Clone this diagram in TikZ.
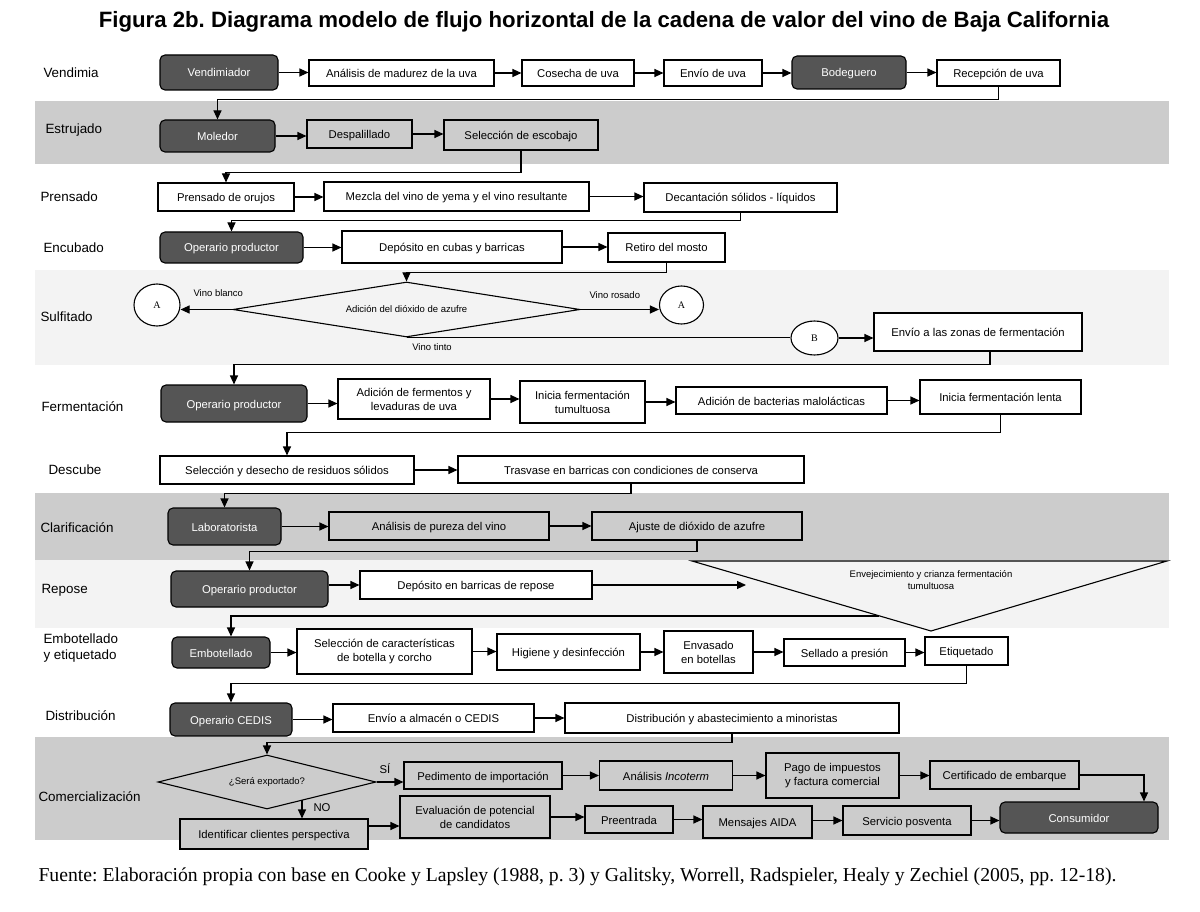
\documentclass[tikz,border=0pt]{standalone}
\usepackage{fontspec}
\setmainfont{Liberation Sans}
\newfontfamily\capfont{Liberation Serif}
\usetikzlibrary{arrows.meta, shapes.geometric}
\definecolor{bandgray}{HTML}{CCCCCC}
\definecolor{bandlight}{HTML}{F3F3F3}
\definecolor{darkbox}{HTML}{555555}
\newcommand{\bxf}{\fontsize{11.3}{14}\selectfont}
\newcommand{\rwf}{\fontsize{13.4}{16}\selectfont}
\newcommand{\smf}{\fontsize{9.5}{11.5}\selectfont}
\frenchspacing

\begin{document}
\begin{tikzpicture}[x=1pt, y=-1pt,
  box/.style={draw, line width=1.1pt, fill=white, inner sep=0pt, font=\bxf, align=center, text height=10.5pt, text depth=1.5pt},
  two/.style={text height={}, text depth={}},
  gbox/.style={box, fill=bandgray},
  dbox/.style={box, fill=darkbox, text=white, rounded corners=5pt},
  circ/.style={draw, ellipse, line width=1.1pt, fill=white, inner sep=0pt, font=\capfont\fontsize{10}{12}\selectfont},
  decis/.style={draw, diamond, line width=1.1pt, inner sep=0pt, font=\smf},
  lbl/.style={anchor=west, font=\rwf, align=left},
  sm/.style={font=\smf},
  arr/.style={-{Triangle[length=9pt,width=8pt]}, line width=1.1pt}]
\useasboundingbox (0,0) rectangle (1200,912);

% bandas
\fill[bandgray] (35,101) rectangle (1169,164);
\fill[bandlight] (35,270) rectangle (1169,365);
\fill[bandgray] (35,493) rectangle (1169,560);
\fill[bandlight] (35,560) rectangle (1169,628);
\fill[bandgray] (35,737) rectangle (1169,840);

\node (title) at (604,22) {\bfseries\fontsize{22.2}{26}\selectfont Figura 2b. Diagrama modelo de flujo horizontal de la cadena de valor del vino de Baja California};

% etapas
\node[lbl] (lvend) at (40,73) {Vendimia};
\node[lbl] (lestr) at (42,130) {Estrujado};
\node[lbl] (lpren) at (37,197) {Prensado};
\node[lbl] (lencu) at (40,248) {Encubado};
\node[lbl] (lsulf) at (37,317) {Sulfitado};
\node[lbl] (lferm) at (38,407) {Fermentación};
\node[lbl] (ldesc) at (45,470) {Descube};
\node[lbl] (lclar) at (37,528) {Clarificación};
\node[lbl] (lrepo) at (38,590) {Repose};
\node[lbl] (lembo) at (40,648) {Embotellado\\y etiquetado};
\node[lbl] (ldist) at (42,716) {Distribución};
\node[lbl] (lcome) at (35,797) {Comercialización};

% vendimia
\node[dbox, minimum width=118, minimum height=35] (vend) at (219,72.5) {Vendimiador};
\node[box, minimum width=185, minimum height=26] (anal) at (401.5,73) {Análisis de madurez de la uva};
\node[box, minimum width=112, minimum height=26] (cosecha) at (578,73) {Cosecha de uva};
\node[box, minimum width=98, minimum height=26] (envio) at (713,73) {Envío de uva};
\node[dbox, minimum width=114, minimum height=33] (bodeg) at (849,72.5) {Bodeguero};
\node[box, minimum width=123, minimum height=26] (recep) at (998.5,73) {Recepción de uva};

\draw[arr] (vend.east) -- (vend.east -| anal.west);
\draw[arr] (anal.east) -- (anal.east -| cosecha.west);
\draw[arr] (cosecha.east) -- (cosecha.east -| envio.west);
\draw[arr] (envio.east) -- (envio.east -| bodeg.west);
\draw[arr] (bodeg.east) -- (bodeg.east -| recep.west);

% estrujado
\node[dbox, minimum width=115, minimum height=32] (moled) at (217.5,136) {Moledor};
\node[gbox, minimum width=105, minimum height=28] (despal) at (359.5,134) {Despalillado};
\node[gbox, minimum width=154, minimum height=30] (selesc) at (521,135) {Selección de escobajo};

\draw[arr] (recep.south) -- ++(0,13) -| (moled.north);
\draw[arr] (moled.east) -- (moled.east -| despal.west);
\draw[arr] (despal.east) -- (despal.east -| selesc.west);

% prensado
\node[box, minimum width=136, minimum height=28] (prens) at (226,197) {Prensado de orujos};
\node[box, minimum width=265, minimum height=29] (mezcla) at (456.5,196.5) {Mezcla del vino de yema y el vino resultante};
\node[box, minimum width=193, minimum height=29] (decant) at (740.5,197.5) {Decantación sólidos - líquidos};

\draw[arr] (selesc.south) -- ++(0,22) -| (prens.north);
\draw[arr] (prens.east) -- (prens.east -| mezcla.west);
\draw[arr] (mezcla.east) -- (mezcla.east -| decant.west);

% encubado
\node[dbox, minimum width=143, minimum height=31] (oper1) at (231.5,247.5) {Operario productor};
\node[box, minimum width=220, minimum height=32] (depcub) at (452,247) {Depósito en cubas y barricas};
\node[box, minimum width=117, minimum height=29] (retiro) at (666.5,247.5) {Retiro del mosto};

\draw[arr] (decant.south) -- ++(0,8) -| (oper1.north);
\draw[arr] (oper1.east) -- (oper1.east -| depcub.west);
\draw[arr] (depcub.east) -- (depcub.east -| retiro.west);

% sulfitado
\node[decis, aspect=6, minimum width=347, minimum height=55] (sulf) at (406.5,309.5) {Adición del dióxido de azufre};
\node[circ, minimum width=46, minimum height=42] (conA1) at (157,305) {A};
\node[circ, minimum width=44, minimum height=38] (conA2) at (681.5,305) {A};
\node[circ, minimum width=47, minimum height=34] (conB) at (814.5,338) {B};
\node[box, minimum width=208, minimum height=38] (envzona) at (978,332) {Envío a las zonas de fermentación};
\node[sm, anchor=west] (lblanco) at (190,293) {Vino blanco};
\node[sm, anchor=west] (lrosado) at (586,295) {Vino rosado};
\node[sm] (ltinto) at (432,347) {Vino tinto};

\draw[arr] (retiro.south) -- ++(0,10) -| (sulf.north);
\draw[arr] (sulf.west) -- (sulf.west -| conA1.east);
\draw[arr] (sulf.east) -- (sulf.east -| conA2.west);
\draw[line width=1.1pt] (sulf.south) -- (sulf.south -| conB.west);
\draw[arr] (conB.east) -- (conB.east -| envzona.west);

% fermentacion
\node[dbox, minimum width=146, minimum height=37] (oper2) at (234,403.5) {Operario productor};
\node[box, two, minimum width=152, minimum height=40] (adferm) at (414,399) {Adición de fermentos y\\levaduras de uva};
\node[box, two, minimum width=125, minimum height=42] (initum) at (582.5,402) {Inicia fermentación\\tumultuosa};
\node[box, minimum width=211, minimum height=27] (bacter) at (781.5,400.5) {Adición de bacterias malolácticas};
\node[box, minimum width=161, minimum height=34] (lenta) at (1000.5,397) {Inicia fermentación lenta};

\draw[arr] ([xshift=12pt]envzona.south) -- ++(0,13) -| (oper2.north);
\draw[arr] (oper2.east) -- (oper2.east -| adferm.west);
\draw[arr] (adferm.east) -- (adferm.east -| initum.west);
\draw[arr] (initum.east) -- (initum.east -| bacter.west);
\draw[arr] (bacter.east) -- (bacter.east -| lenta.west);

% descube
\node[box, minimum width=254, minimum height=28] (selres) at (287,470) {Selección y desecho de residuos sólidos};
\node[box, minimum width=346, minimum height=27] (trasv) at (631,469.5) {Trasvase en barricas con condiciones de conserva};

\draw[arr] (lenta.south) -- ++(0,18) -| (selres.north);
\draw[arr] (selres.east) -- (selres.east -| trasv.west);

% clarificacion
\node[dbox, minimum width=113, minimum height=37] (labor) at (224.5,526.5) {Laboratorista};
\node[gbox, minimum width=220, minimum height=28] (anpur) at (439,526) {Análisis de pureza del vino};
\node[gbox, minimum width=210, minimum height=28] (ajuste) at (697,526) {Ajuste de dióxido de azufre};

\draw[arr] (trasv.south) -- ++(0,10) -| (labor.north);
\draw[arr] (labor.east) -- (labor.east -| anpur.west);
\draw[arr] (anpur.east) -- (anpur.east -| ajuste.west);

% repose
\node[dbox, minimum width=157, minimum height=36] (oper3) at (249.5,589) {Operario productor};
\node[box, minimum width=232, minimum height=28] (depbar) at (476,585) {Depósito en barricas de repose};
\coordinate (tl) at (692,561);
\coordinate (tr) at (1167,561);
\coordinate (tb) at (931,631);
\draw[line width=1.1pt, fill=bandlight] (tl) -- (tr) -- (tb) -- cycle;
\node[sm, align=center] (crianza) at (931,580) {Envejecimiento y crianza fermentación\\tumultuosa};
\coordinate (trin) at (746,585);
\coordinate (trout) at (879,616);

\draw[arr] (ajuste.south) -- ++(0,11) -| (oper3.north);
\draw[arr] (depbar.west -| oper3.east) -- (depbar.west);
\draw[arr] (depbar.east) -- (trin);

% embotellado
\node[dbox, minimum width=98, minimum height=31] (embot) at (221,652.5) {Embotellado};
\node[box, two, minimum width=175, minimum height=45] (selcar) at (384.5,651.5) {Selección de características\\de botella y corcho};
\node[box, minimum width=143, minimum height=36] (higiene) at (568.5,652) {Higiene y desinfección};
\node[box, two, minimum width=89, minimum height=42] (envas) at (708.5,652) {Envasado\\en botellas};
\node[box, minimum width=121, minimum height=27] (sellado) at (844.5,652.5) {Sellado a presión};
\node[box, minimum width=83, minimum height=28] (etiq) at (966.5,651) {Etiquetado};

\draw[arr] (trout) -| ([xshift=10pt]embot.north);
\draw[arr] (embot.east) -- (embot.east -| selcar.west);
\draw[arr] (selcar.east) -- (selcar.east -| higiene.west);
\draw[arr] (higiene.east) -- (higiene.east -| envas.west);
\draw[arr] (envas.east) -- (envas.east -| sellado.west);
\draw[arr] (sellado.east) -- (sellado.east -| etiq.west);

% distribucion
\node[dbox, minimum width=122, minimum height=33] (opcedis) at (231,719.5) {Operario CEDIS};
\node[box, minimum width=201, minimum height=28] (envalm) at (433.5,718) {Envío a almacén o CEDIS};
\node[box, minimum width=334, minimum height=30] (distab) at (732,718) {Distribución y abastecimiento a minoristas};

\draw[arr] (etiq.south) -- ++(0,18) -| (opcedis.north);
\draw[arr] (opcedis.east) -- (opcedis.east -| envalm.west);
\draw[arr] (envalm.east) -- (envalm.east -| distab.west);

% comercializacion
\node[decis, aspect=4, minimum width=218, minimum height=54] (export) at (267,782) {¿Será exportado?};
\node[gbox, minimum width=158, minimum height=27] (pedim) at (483,775.5) {Pedimento de importación};
\node[gbox, minimum width=133, minimum height=29] (incot) at (666,775.5) {Análisis \textit{Incoterm}};
\node[gbox, two, minimum width=133, minimum height=45] (pago) at (832.5,775.5) {Pago de impuestos\\y factura comercial};
\node[gbox, minimum width=149, minimum height=28] (certif) at (1004.5,775) {Certificado de embarque};
\node[gbox, minimum width=188, minimum height=30] (identif) at (274,834) {Identificar clientes perspectiva};
\node[gbox, two, minimum width=150, minimum height=42] (evalu) at (475,817) {Evaluación de potencial\\de candidatos};
\node[gbox, minimum width=88, minimum height=27] (preen) at (629,819.5) {Preentrada};
\node[gbox, minimum width=109, minimum height=32] (mensa) at (757.5,822) {Mensajes AIDA};
\node[gbox, minimum width=128, minimum height=29] (servi) at (907,820.5) {Servicio posventa};
\node[dbox, minimum width=158, minimum height=31] (consum) at (1079,817.5) {Consumidor};
\node[anchor=west, font=\bxf] (lsi) at (376,769) {SÍ};
\node[anchor=west, font=\bxf] (lno) at (310,808) {NO};
\coordinate (nopt) at (302,800);

\draw[arr] (distab.south) -- ++(0,9) -| (export.north);
\draw[arr] (export.east) -- (export.east -| pedim.west);
\draw[arr] (pedim.east) -- (pedim.east -| incot.west);
\draw[arr] (incot.east) -- (incot.east -| pago.west);
\draw[arr] (pago.east) -- (pago.east -| certif.west);
\draw[arr] (certif.east) -| ([xshift=65pt]consum.north);
\draw[arr] (nopt) -- (nopt |- identif.north);
\draw[arr] ([yshift=8pt]identif.east) -- ([yshift=8pt]identif.east -| evalu.west);
\draw[arr] (evalu.east) -- (evalu.east -| preen.west);
\draw[arr] (preen.east) -- (preen.east -| mensa.west);
\draw[arr] (servi.west -| mensa.east) -- (servi.west);
\draw[arr] (servi.east) -- (servi.east -| consum.west);

\node[anchor=west, font=\capfont\fontsize{19.7}{22}\selectfont] (fuente) at (35,877) {Fuente: Elaboración propia con base en Cooke y Lapsley (1988, p. 3) y Galitsky, Worrell, Radspieler, Healy y Zechiel (2005, pp. 12-18).};
\end{tikzpicture}
\end{document}
